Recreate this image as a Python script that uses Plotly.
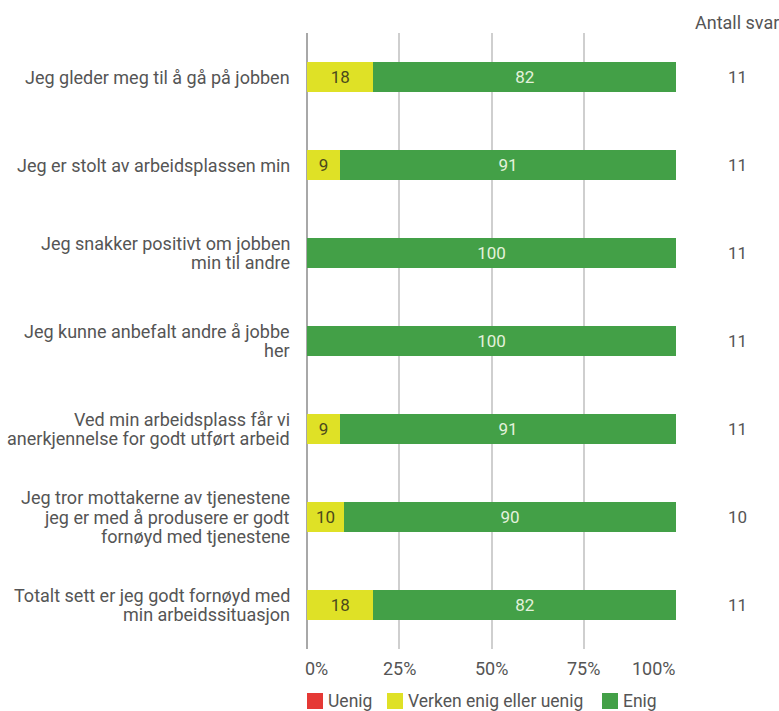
import plotly.graph_objects as go

# Survey statements (top to bottom); <br> marks the line breaks of each label
statements = [
    "Jeg gleder meg til å gå på jobben",
    "Jeg er stolt av arbeidsplassen min",
    "Jeg snakker positivt om jobben<br>min til andre",
    "Jeg kunne anbefalt andre å jobbe<br>her",
    "Ved min arbeidsplass får vi<br>anerkjennelse for godt utført arbeid",
    "Jeg tror mottakerne av tjenestene<br>jeg er med å produsere er godt<br>fornøyd med tjenestene",
    "Totalt sett er jeg godt fornøyd med<br>min arbeidssituasjon",
]
uenig = [0, 0, 0, 0, 0, 0, 0]
verken = [18, 9, 0, 0, 9, 10, 18]
enig = [82, 91, 100, 100, 91, 90, 82]
antall_svar = [11, 11, 11, 11, 11, 10, 11]
tick_vals = [0, 25, 50, 75, 100]
tick_text = ["0%", "25%", "50%", "75%", "100%"]

RED = "#e53935"
YELLOW = "#dfe126"
GREEN = "#43a047"
FONT = "Roboto"
GREY = "#555555"
SIZE = 18
LINE_H = 19.5

def labels(vals):
    return [str(v) if v > 0 else "" for v in vals]

fig = go.Figure()
for name, vals, col, tcol in [
    ("Uenig", uenig, RED, "#ffffff"),
    ("Verken enig eller uenig", verken, YELLOW, "#4b491c"),
    ("Enig", enig, GREEN, "#e3f2dc"),
]:
    fig.add_bar(y=statements, x=vals, orientation="h", name=name,
                marker=dict(color=col, line=dict(width=0)), width=0.33,
                text=labels(vals), textposition="inside", insidetextanchor="middle",
                textfont=dict(family=FONT, size=17, color=tcol), showlegend=False)

L, R, T, B = 307, 103, 33, 62
W, H = 779, 711
pw, ph = W - L - R, H - T - B

def px_x(px):
    return (px - L) / pw

def px_y(py):
    return (H - B - py) / ph

annotations = []
# Category labels, right aligned, one annotation per line for tight line spacing
for s in statements:
    lines = s.split("<br>")
    n = len(lines)
    for k, line in enumerate(lines):
        annotations.append(dict(x=px_x(292), y=s, xref="paper", yref="y",
                                text=line, showarrow=False,
                                yshift=((n - 1) / 2 - k) * LINE_H,
                                font=dict(family=FONT, size=SIZE, color=GREY),
                                xanchor="right", yanchor="middle"))

# Percentage tick labels; the end labels are kept inside the axis span
for i, (v, t) in enumerate(zip(tick_vals, tick_text)):
    if i == 0:
        anchor, shift = "left", -4
    elif i == len(tick_vals) - 1:
        anchor, shift = "right", 2
    else:
        anchor, shift = "center", 0
    annotations.append(dict(x=v, y=px_y(668), xref="x", yref="paper",
                            text=t, showarrow=False, xshift=shift,
                            font=dict(family=FONT, size=SIZE, color=GREY),
                            xanchor=anchor, yanchor="middle"))

# "Antall svar" column
annotations.append(dict(x=px_x(737), y=px_y(22), xref="paper", yref="paper",
                        text="Antall svar", showarrow=False,
                        font=dict(family=FONT, size=SIZE, color=GREY),
                        xanchor="center", yanchor="middle"))
for s, n in zip(statements, antall_svar):
    annotations.append(dict(x=px_x(737), y=s, xref="paper", yref="y",
                            text=str(n), showarrow=False,
                            font=dict(family=FONT, size=17, color=GREY),
                            xanchor="center", yanchor="middle"))

# Legend drawn as swatches + labels
shapes = []
legend_items = [("Uenig", RED, 307), ("Verken enig eller uenig", YELLOW, 387), ("Enig", GREEN, 602)]
ly = 701
for name, col, x0 in legend_items:
    shapes.append(dict(type="rect", xref="paper", yref="paper",
                       x0=px_x(x0), x1=px_x(x0 + 16), y0=px_y(ly + 8), y1=px_y(ly - 8),
                       fillcolor=col, line=dict(width=0)))
    annotations.append(dict(x=px_x(x0 + 19), y=px_y(ly), xref="paper", yref="paper",
                            text=name, showarrow=False,
                            font=dict(family=FONT, size=17.5, color=GREY),
                            xanchor="left", yanchor="middle"))

fig.update_layout(
    width=W, height=H,
    margin=dict(l=L, r=R, t=T, b=B),
    barmode="stack",
    paper_bgcolor="white", plot_bgcolor="white",
    font=dict(family=FONT, size=SIZE, color=GREY),
    uniformtext=dict(mode="show", minsize=10),
    xaxis=dict(range=[0, 100], tickvals=tick_vals, showticklabels=False,
               showgrid=True, gridcolor="#cfcfcf", gridwidth=2,
               zeroline=True, zerolinecolor="#a8a8a8", zerolinewidth=2,
               ticks="", fixedrange=True),
    yaxis=dict(autorange="reversed", showgrid=False, zeroline=False,
               showticklabels=False, ticks="", fixedrange=True),
    annotations=annotations,
    shapes=shapes,
    showlegend=False,
)

fig.write_html("out.html")
